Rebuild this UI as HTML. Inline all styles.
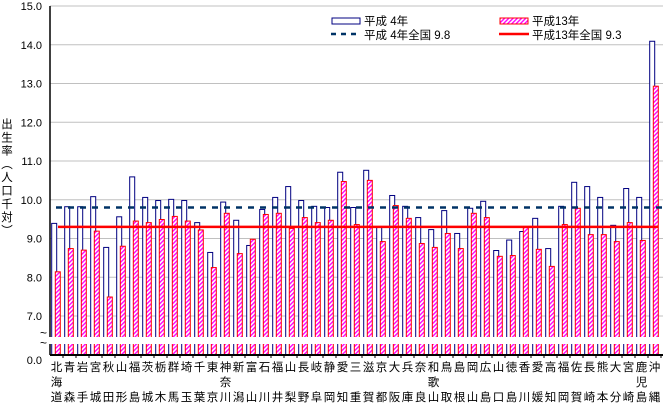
<!DOCTYPE html>
<html><head><meta charset="utf-8"><style>
body{margin:0;background:#fff;}
svg text{font-family:"Liberation Sans","Noto Sans CJK JP",sans-serif;}
</style></head><body>
<svg id="chart" width="670" height="403" xmlns="http://www.w3.org/2000/svg">
<defs>
<pattern id="hatch" width="3" height="3" patternUnits="userSpaceOnUse" patternTransform="rotate(45)">
<rect width="3" height="3" fill="#fff"/>
<rect width="1.4" height="3" fill="#ff00ff"/>
</pattern>
</defs>
</svg>
<script>
const categories=[["北","海","道"],["青","森"],["岩","手"],["宮","城"],["秋","田"],["山","形"],["福","島"],["茨","城"],["栃","木"],["群","馬"],["埼","玉"],["千","葉"],["東","京"],["神","奈","川"],["新","潟"],["富","山"],["石","川"],["福","井"],["山","梨"],["長","野"],["岐","阜"],["静","岡"],["愛","知"],["三","重"],["滋","賀"],["京","都"],["大","阪"],["兵","庫"],["奈","良"],["和","歌","山"],["鳥","取"],["島","根"],["岡","山"],["広","島"],["山","口"],["徳","島"],["香","川"],["愛","媛"],["高","知"],["福","岡"],["佐","賀"],["長","崎"],["熊","本"],["大","分"],["宮","崎"],["鹿","児","島"],["沖","縄"]];
const h4=[9.39,9.82,9.82,10.08,8.77,9.56,10.59,10.06,9.98,10.01,9.98,9.41,8.64,9.94,9.47,8.82,9.75,10.06,10.34,9.98,9.83,9.80,10.71,9.80,10.76,9.30,10.11,9.83,9.54,9.23,9.72,9.13,9.78,9.96,8.69,8.96,9.18,9.52,8.74,9.83,10.45,10.34,10.06,9.34,10.29,10.06,14.09];
const h13=[8.14,8.74,8.70,9.19,7.49,8.80,9.45,9.41,9.49,9.57,9.45,9.22,8.25,9.65,8.61,8.98,9.62,9.65,9.26,9.54,9.41,9.47,10.47,9.36,10.50,8.92,9.85,9.52,8.87,8.77,9.13,8.74,9.65,9.54,8.54,8.56,9.29,8.72,8.28,9.36,9.78,9.10,9.10,8.92,9.41,8.95,12.93];
const yTicks=[7,8,9,10,11,12,13,14,15];
const nat4=[9.8];
const nat13=[9.3];

const NS="http://www.w3.org/2000/svg";
const svg=document.getElementById('chart');
const X0=50,X1=661,AXB=355,GAP0=337,GAP1=344;
const step=(X1-X0)/categories.length;
function y(v){return 316-(v-7)*38.75;}
function xc(i){return X0+i*step;}
function mk(tag,attrs,parent){const e=document.createElementNS(NS,tag);for(const k in attrs)e.setAttribute(k,attrs[k]);(parent||svg).appendChild(e);return e;}

yTicks.forEach(t=>{
  const g=mk('line',{x1:X0,x2:663,y1:y(t),y2:y(t),stroke:'#c0c0c0','stroke-width':1});
  
  
  const l=mk('text',{x:42,y:y(t)+4,'text-anchor':'end','font-size':'11'});
  l.textContent=t.toFixed(1);
  
  
});
const z=mk('text',{x:42,y:364,'text-anchor':'end','font-size':'11'});
z.textContent='0.0';



const bars=mk('g',{});


categories.forEach((c,i)=>{
  const bx=xc(i)+1.7;
  const b=mk('rect',{x:bx,y:y(h4[i]),width:5,height:AXB-y(h4[i]),fill:'#fff',stroke:'#000080','stroke-width':1},bars);
  
  
  const p=mk('rect',{x:bx+3.6,y:y(h13[i]),width:5,height:AXB-y(h13[i]),fill:'url(#hatch)',stroke:'#ff0000','stroke-width':1},bars);
  
  
  const tk=mk('line',{x1:xc(i+1),x2:xc(i+1),y1:AXB,y2:AXB+3,stroke:'#000','stroke-width':1});
  
  
  c.forEach((ch,k)=>{
    const ky = c.length===3 ? [371,386,401][k] : [371,401][k];
    const t=mk('text',{x:xc(i)+step/2,y:ky,'text-anchor':'middle','font-size':'11.5'});
    t.textContent=ch;
    
    
  });
});

const gap=mk('rect',{x:X0-10,y:GAP0,width:625,height:GAP1-GAP0,fill:'#fff'});


[GAP0-4,GAP1-1].forEach(yy=>{
  const t=mk('text',{x:40,y:yy+4,'font-size':'12'});t.textContent='~';
  
  
});

const l4=mk('line',{x1:56,x2:663,y1:y(nat4[0]),y2:y(nat4[0]),stroke:'#003366','stroke-width':2.5,'stroke-dasharray':'6,6'});


const l13=mk('line',{x1:58,x2:658,y1:y(nat13[0]),y2:y(nat13[0]),stroke:'#ff0000','stroke-width':2.5});



const ya=mk('line',{x1:X0,x2:X0,y1:6,y2:GAP0,stroke:'#000','stroke-width':1.5});

const ya2=mk('line',{x1:X0,x2:X0,y1:GAP1,y2:AXB,stroke:'#000','stroke-width':1.5});

const xa=mk('line',{x1:X0,x2:663,y1:AXB,y2:AXB,stroke:'#000','stroke-width':2});


'出生率（人口千対）'.split('').forEach((ch,k)=>{
  const t=mk('text',{x:7,y:128+k*13.3,'text-anchor':'middle','font-size':'11.5'});
  t.textContent=['（','）'].includes(ch)?(ch==='（'?'︵':'︶'):ch;
  
  
});

const lg=mk('g',{});


const r1=mk('rect',{x:332,y:18,width:28,height:6,fill:'#fff',stroke:'#000080'},lg);

const t1=mk('text',{x:364,y:25,'font-size':'11.5'},lg);t1.textContent='平成 4年';

const d1=mk('line',{x1:331,x2:359,y1:34,y2:34,stroke:'#003366','stroke-width':2.5,'stroke-dasharray':'5,5'},lg);

const t2=mk('text',{x:364,y:39,'font-size':'11.5'},lg);t2.textContent='平成 4年全国 9.8';

const r2=mk('rect',{x:500,y:18,width:28,height:6,fill:'url(#hatch)',stroke:'#ff0000'},lg);

const t3=mk('text',{x:532,y:25,'font-size':'11.5'},lg);t3.textContent='平成13年';

const d2=mk('line',{x1:499,x2:529,y1:34,y2:34,stroke:'#ff0000','stroke-width':2.5},lg);

const t4=mk('text',{x:532,y:39,'font-size':'11.5'},lg);t4.textContent='平成13年全国 9.3';

</script>
</body></html>
